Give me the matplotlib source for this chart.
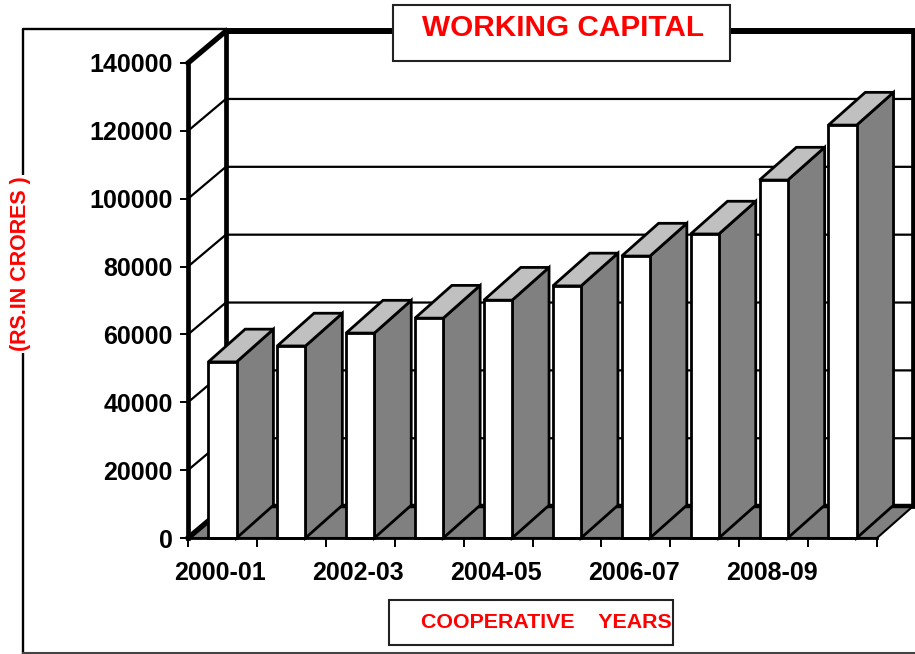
import matplotlib
matplotlib.use('Agg')
import matplotlib.pyplot as plt
from matplotlib.lines import Line2D
from matplotlib.patches import Polygon, Rectangle

plt.rcParams['font.family'] = ['Liberation Sans', 'DejaVu Sans']

# Data
years = ['2000-01', '2001-02', '2002-03', '2003-04', '2004-05',
         '2005-06', '2006-07', '2007-08', '2008-09', '2009-10']
capital = [51900, 56600, 60400, 64800, 70100, 74300, 83100, 89600, 105500, 121700]
y_ticks = [0, 20000, 40000, 60000, 80000, 100000, 120000, 140000]

W, H = 915, 654
fig = plt.figure(figsize=(W / 100, H / 100), dpi=100)
ax = fig.add_axes([188 / W, 1 - 538 / H, (877 - 188) / W, (538 - 63) / H])
ax.set_xlim(0, 10)
ax.set_ylim(0, 140000)
ax.patch.set_visible(False)

# 3d depth in data units
dx = 0.55
dy = 9400
n = len(years)
bar_w = 0.41
bar_dx = 0.535
bar_dy = 9650
wall_r = n + 0.525


def poly(pts, fc, lw=2.0, z=3):
    ax.add_patch(Polygon(pts, closed=True, facecolor=fc, edgecolor='black',
                         linewidth=lw, joinstyle='miter', clip_on=False, zorder=z))


def line(xs, ys, lw, z=2):
    ax.add_line(Line2D(xs, ys, color='black', linewidth=lw, clip_on=False, zorder=z,
                       solid_capstyle='projecting'))


# floor
poly([(0, 0), (n, 0), (wall_r, dy), (dx, dy)], '#808080', lw=1.5, z=1.5)
line([dx, wall_r], [dy, dy], 3.2)

# walls and grid
top = y_ticks[-1]
for v in y_ticks[1:-1]:
    line([0, dx, wall_r], [v, v + dy, v + dy], 1.6)
line([dx, dx], [dy, top + dy], 3.4)
line([0, 0], [0, top], 3.4)
line([0, dx], [top, top + dy], 3.8)
line([0, dx], [0, dy], 3.8)
line([dx, wall_r], [top + dy, top + dy], 4.3)
line([wall_r, wall_r], [dy, top + dy], 3.4)

# bars
for i, v in enumerate(capital):
    x0 = i + (1 - bar_w) / 2
    x1 = x0 + bar_w
    poly([(x1, 0), (x1 + bar_dx, bar_dy), (x1 + bar_dx, v + bar_dy), (x1, v)], '#808080', z=3 + i * 0.1)
    poly([(x0, v), (x1, v), (x1 + bar_dx, v + bar_dy), (x0 + bar_dx, v + bar_dy)], '#c0c0c0', z=3 + i * 0.1)
    poly([(x0, 0), (x1, 0), (x1, v), (x0, v)], 'white', z=3 + i * 0.1)

# axes
for s in ['top', 'right']:
    ax.spines[s].set_visible(False)
ax.spines['left'].set_visible(False)
ax.spines['bottom'].set_linewidth(2.0)
ax.spines['bottom'].set_zorder(5)
ax.set_yticks(y_ticks)
ax.set_yticklabels([str(v) for v in y_ticks], fontsize=18, fontweight='bold')
ax.set_xticks(range(n + 1))
ax.set_xticklabels([])
ax.set_xticks([i + 0.47 for i in range(0, n, 2)], minor=True)
ax.set_xticklabels(years[::2], minor=True, fontsize=18, fontweight='bold')
ax.tick_params(axis='y', length=6, width=1.4, pad=5)
ax.tick_params(axis='x', which='major', length=6.5, width=1.4)
ax.tick_params(axis='x', which='minor', length=0, pad=16.5)

# outer frame, title and label boxes sit on top of it
fig.add_artist(Line2D([23 / W, 23 / W, 226 / W], [1 - 653 / H, 1 - 29 / H, 1 - 29 / H],
                      color='black', linewidth=1.7, zorder=1))
fig.add_artist(Line2D([23 / W, 1], [1 - 652.5 / H, 1 - 652.5 / H], color='#444444',
                      linewidth=1.5, zorder=1))
fig.add_artist(Rectangle((393 / W, 1 - 61 / H), 337 / W, 56 / H, facecolor='white',
                         edgecolor='#222222', linewidth=1.5, zorder=6))
fig.text(563 / W, 1 - 28 / H, 'WORKING CAPITAL', color='#ff0000', fontsize=21.4,
         fontweight='bold', ha='center', va='center', zorder=7)
fig.add_artist(Rectangle((389 / W, 1 - 645 / H), 284 / W, 45 / H, facecolor='white',
                         edgecolor='#222222', linewidth=1.5, zorder=6))
fig.text(546 / W, 1 - 623 / H, 'COOPERATIVE    YEARS', color='#ff0000', fontsize=15.4,
         fontweight='bold', ha='center', va='center', zorder=7)
fig.text(21 / W, 1 - 264 / H, '(RS.IN CRORES )', color='#ff0000', fontsize=15.5,
         fontweight='bold', rotation=90, ha='center', va='center', zorder=7,
         bbox=dict(facecolor='white', edgecolor='none', pad=1))

fig.savefig('out.png', dpi=100)
